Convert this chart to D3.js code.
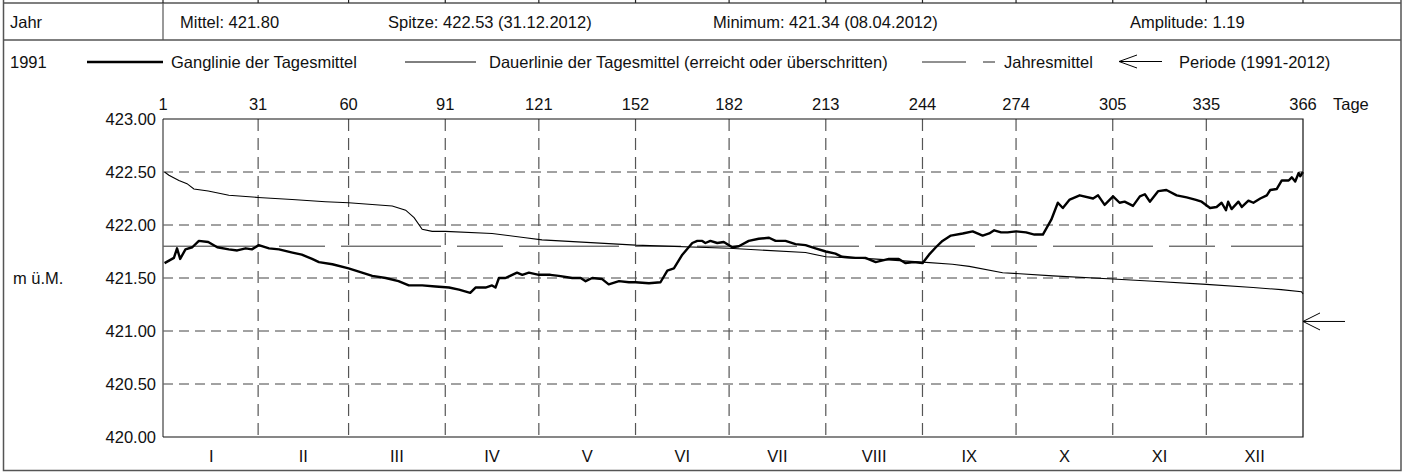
<!DOCTYPE html>
<html>
<head>
<meta charset="utf-8">
<script src="https://cdn.jsdelivr.net/npm/d3@7"></script>
<style>
  body { margin: 0; background: #fff; }
  svg text { font-family: "Liberation Sans", Arial, sans-serif; font-size: 16.5px; fill: #111; }
</style>
</head>
<body>
<svg class="chart"></svg>
<script>
// Wasserstand 1991 - Ganglinie / Dauerlinie

// grid days (month boundaries) and labels
let tickDays = [1, 31, 60, 91, 121, 152, 182, 213, 244, 274, 305, 335, 366];
let monthLabels = ["I","II","III","IV","V","VI","VII","VIII","IX","X","XI","XII"];
let yTicks = [420.0, 420.5, 421.0, 421.5, 422.0, 422.5, 423.0];

let yearMean = 421.80;
let periodMean = 421.09;

// Ganglinie der Tagesmittel
let gangDays = [1, 4, 5, 6, 7.7, 9.9, 12, 15, 17.9, 21.6, 24.3, 27, 29, 31.2, 34.5, 37.7, 42, 45, 48.3, 50.5,
  54.8, 60, 63.3, 67.6, 71.9, 76, 79.3, 83.6, 87.9, 92.2, 95.4, 99, 100.7, 103.9, 106, 107.1, 108.2, 110.3,
  114, 115.7, 117.8, 121, 124.7, 127.4, 131.7, 134.4, 136, 138.1, 141.3, 143.4, 146.7, 149.9, 152, 156.3,
  160, 162.2, 164.3, 167, 170.2, 171.8, 173.4, 174.4, 176, 178.2, 180.3, 183, 185.1, 188.3, 191.5, 194.8,
  196.9, 200.1, 203.3, 206.5, 209.7, 213, 216.1, 218.2, 222.5, 225.7, 229, 233.2, 236.4, 238.6, 241.2, 244,
  246.1, 248.3, 250.4, 253.1, 256.9, 260.1, 263.3, 265.4, 267, 269.2, 271.3, 274, 277.2, 279.9, 282.6,
  285.3, 287.4, 289, 291.2, 294.4, 298.7, 300.3, 302.4, 305.1, 307.2, 308.8, 311.5, 313.7, 315.3, 316.9,
  319.6, 322.2, 325.5, 328.7, 331.4, 333.5, 336.2, 338.3, 339.9, 341.3, 342, 343.1, 345.3, 346.4, 348.5,
  350.1, 352.3, 354.4, 355.5, 357.6, 359.2, 361.4, 362.4, 363.5, 364.6, 365.1, 366];
let gangValues = [421.64, 421.69, 421.78, 421.68, 421.77, 421.79, 421.85, 421.84, 421.79, 421.77, 421.76, 421.78,
  421.77, 421.81, 421.78, 421.77, 421.74, 421.72, 421.68, 421.65, 421.63, 421.59, 421.56, 421.52, 421.50,
  421.47, 421.43, 421.43, 421.42, 421.41, 421.39, 421.36, 421.41, 421.41, 421.43, 421.41, 421.50, 421.50,
  421.55, 421.53, 421.55, 421.53, 421.53, 421.52, 421.50, 421.50, 421.47, 421.50, 421.49, 421.44, 421.47,
  421.46, 421.46, 421.45, 421.46, 421.57, 421.59, 421.72, 421.83, 421.85, 421.85, 421.83, 421.85, 421.83,
  421.84, 421.79, 421.80, 421.85, 421.87, 421.88, 421.85, 421.85, 421.82, 421.81, 421.78, 421.75, 421.73,
  421.70, 421.69, 421.69, 421.65, 421.68, 421.68, 421.64, 421.65, 421.64, 421.72, 421.79, 421.85, 421.90,
  421.92, 421.94, 421.90, 421.92, 421.95, 421.93, 421.93, 421.94, 421.93, 421.91, 421.91, 422.05, 422.21,
  422.16, 422.24, 422.28, 422.25, 422.28, 422.19, 422.27, 422.21, 422.22, 422.18, 422.27, 422.29, 422.22,
  422.32, 422.33, 422.28, 422.26, 422.24, 422.22, 422.16, 422.17, 422.21, 422.14, 422.22, 422.15, 422.22,
  422.17, 422.23, 422.21, 422.25, 422.28, 422.33, 422.34, 422.42, 422.42, 422.45, 422.41, 422.49, 422.46,
  422.50];

// Dauerlinie der Tagesmittel (erreicht oder ueberschritten)
let dauerDays = [1, 2.4, 5.6, 8.2, 10.4, 15, 21.6, 31, 41.9, 52.6, 60, 74, 78.3, 81, 83.6, 86.8, 91, 106, 116.7,
  122, 152, 182, 206.5, 213, 228, 244, 253.6, 259, 269.7, 285.8, 305, 318, 335, 350, 359, 365.5, 366];
let dauerValues = [422.50, 422.47, 422.42, 422.39, 422.34, 422.32, 422.28, 422.26, 422.24, 422.22, 422.21,
  422.18, 422.14, 422.07, 421.96, 421.94, 421.94, 421.92, 421.88, 421.86, 421.81, 421.78, 421.74, 421.70,
  421.68, 421.65, 421.63, 421.61, 421.55, 421.52, 421.49, 421.47, 421.44, 421.41, 421.39, 421.37, 421.35];

let w = 1406, h = 472;
let svg = d3.select("svg.chart").attr("width", w).attr("height", h);

let plotLeft = 163, plotRight = 1303, plotTop = 119, plotBottom = 437;

let x = d3.scaleLinear().domain([0.5, 366]).range([plotLeft, plotRight]);
let y = d3.scaleLinear().domain([420, 423]).range([plotBottom, plotTop]);

let frame = "#555";

// outer frame and header table
svg.append("rect")
  .attr("x", 3.5).attr("y", -10).attr("width", 1397.5).attr("height", 480.5)
  .attr("fill", "none").attr("stroke", frame).attr("stroke-width", 1.5);
svg.append("line").attr("x1", 3).attr("x2", 1401).attr("y1", 3).attr("y2", 3)
  .attr("stroke", frame).attr("stroke-width", 1.5);
svg.append("line").attr("x1", 3).attr("x2", 1401).attr("y1", 40).attr("y2", 40)
  .attr("stroke", frame).attr("stroke-width", 1.5);
svg.append("line").attr("x1", plotLeft).attr("x2", plotLeft).attr("y1", 3).attr("y2", 40)
  .attr("stroke", frame).attr("stroke-width", 1.2);
// stubs of the table above
svg.append("g").selectAll("line")
  .data(tickDays)
  .enter().append("line")
  .attr("x1", d => d == 1 ? plotLeft : x(d)).attr("x2", d => d == 1 ? plotLeft : x(d))
  .attr("y1", 0).attr("y2", 3)
  .attr("stroke", "#222").attr("stroke-width", 1.2);

// header texts
let header = [["Jahr", 10], ["Mittel: 421.80", 180], ["Spitze: 422.53 (31.12.2012)", 388],
              ["Minimum: 421.34 (08.04.2012)", 713], ["Amplitude: 1.19", 1130]];
svg.append("g").selectAll("text")
  .data(header)
  .enter().append("text")
  .attr("x", d => d[1]).attr("y", 28)
  .text(d => d[0]);

// legend row
let leg = svg.append("g").attr("class", "legend");
leg.append("text").attr("x", 10).attr("y", 68).text("1991");
leg.append("line").attr("x1", 87).attr("x2", 163).attr("y1", 62).attr("y2", 62)
  .attr("stroke", "#000").attr("stroke-width", 2.4);
leg.append("text").attr("x", 171).attr("y", 68).text("Ganglinie der Tagesmittel");
leg.append("line").attr("x1", 405).attr("x2", 476).attr("y1", 62).attr("y2", 62)
  .attr("stroke", "#000").attr("stroke-width", 1);
leg.append("text").attr("x", 489).attr("y", 68)
  .text("Dauerlinie der Tagesmittel (erreicht oder überschritten)");
leg.append("line").attr("x1", 922).attr("x2", 995).attr("y1", 62).attr("y2", 62)
  .attr("stroke", "#222").attr("stroke-width", 1).attr("stroke-dasharray", "44,17");
leg.append("text").attr("x", 1004).attr("y", 68).text("Jahresmittel");
leg.append("path")
  .attr("d", "M1162,61.5H1119M1137,55L1119,61.5L1137,68")
  .attr("fill", "none").attr("stroke", "#000").attr("stroke-width", 1);
leg.append("text").attr("x", 1179).attr("y", 68).text("Periode (1991-2012)");

// grid
let grid = svg.append("g").attr("class", "grid");
grid.selectAll("line.h")
  .data(yTicks.slice(1, -1))
  .enter().append("line").attr("class", "h")
  .attr("x1", plotLeft).attr("x2", plotRight)
  .attr("y1", d => y(d)).attr("y2", d => y(d))
  .attr("stroke", "#444").attr("stroke-width", 1).attr("stroke-dasharray", "10,6");
grid.selectAll("line.v")
  .data(tickDays.slice(1, -1))
  .enter().append("line").attr("class", "v")
  .attr("x1", d => x(d)).attr("x2", d => x(d))
  .attr("y1", plotTop).attr("y2", plotBottom)
  .attr("stroke", "#555").attr("stroke-width", 1.2).attr("stroke-dasharray", "12,7");

// y axis labels
svg.append("g").selectAll("text")
  .data(yTicks)
  .enter().append("text")
  .attr("x", 156).attr("y", d => y(d)).attr("dy", "0.36em")
  .attr("text-anchor", "end")
  .text(d => d3.format(".2f")(d));
svg.append("text").attr("x", 13).attr("y", y(421.5)).attr("dy", "0.36em").text("m ü.M.");

// top day labels
svg.append("g").selectAll("text")
  .data(tickDays)
  .enter().append("text")
  .attr("x", d => d == 1 ? plotLeft : x(d)).attr("y", 110)
  .attr("text-anchor", "middle")
  .text(d => d);
svg.append("text").attr("x", 1333).attr("y", 110).text("Tage");

// month labels
svg.append("g").selectAll("text")
  .data(monthLabels)
  .enter().append("text")
  .attr("x", (d, i) => x((tickDays[i] + tickDays[i + 1]) / 2))
  .attr("y", 462)
  .attr("text-anchor", "middle")
  .text(d => d);

// annual mean
svg.append("line")
  .attr("x1", plotLeft).attr("x2", plotRight)
  .attr("y1", y(yearMean)).attr("y2", y(yearMean))
  .attr("stroke", "#333").attr("stroke-width", 1).attr("stroke-dasharray", "100,16,46,16");

let line = d3.line().x(d => x(d[0])).y(d => y(d[1]));

// Dauerlinie
svg.append("path")
  .datum(dauerDays.map((d, i) => [d, dauerValues[i]]))
  .attr("d", line)
  .attr("fill", "none").attr("stroke", "#000").attr("stroke-width", 1.1);

// Ganglinie
svg.append("path")
  .datum(gangDays.map((d, i) => [d, gangValues[i]]))
  .attr("d", line)
  .attr("fill", "none").attr("stroke", "#000").attr("stroke-width", 2.4)
  .attr("stroke-linejoin", "round");

// plot frame
svg.append("line").attr("x1", plotLeft).attr("x2", plotLeft).attr("y1", plotTop).attr("y2", plotBottom)
  .attr("stroke", "#666").attr("stroke-width", 1.5);
svg.append("path")
  .attr("d", "M" + plotLeft + "," + plotTop + "H" + plotRight + "V" + plotBottom + "H" + plotLeft)
  .attr("fill", "none").attr("stroke", "#111").attr("stroke-width", 1.2);

// period mean arrow
let py = y(periodMean);
svg.append("path")
  .attr("d", "M" + (plotRight + 42) + "," + py + "H" + plotRight +
             "M" + (plotRight + 17) + "," + (py - 8.5) + "L" + plotRight + "," + py + "L" + (plotRight + 17) + "," + (py + 8.5))
  .attr("fill", "none").attr("stroke", "#000").attr("stroke-width", 1);
</script>
</body>
</html>
